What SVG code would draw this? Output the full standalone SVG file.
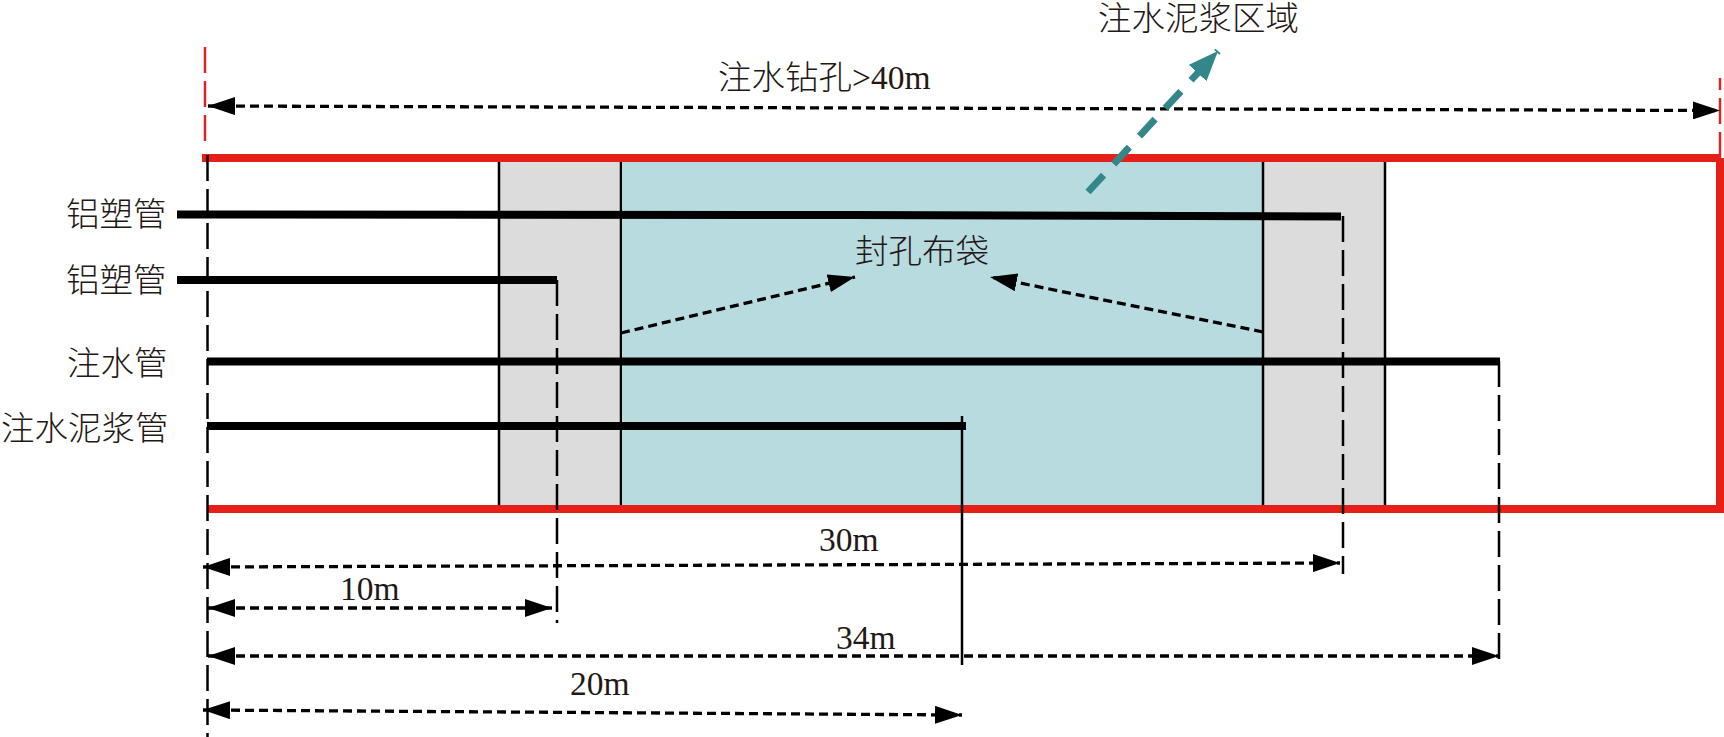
<svg xmlns="http://www.w3.org/2000/svg" width="1724" height="737" viewBox="0 0 1724 737">
<style>
text{font-family:"Liberation Serif","Noto Sans CJK SC",serif;font-size:33.5px;fill:#231815}
.cjk{font-weight:300}
.red{stroke:#e71f19;stroke-width:8;fill:none}
.reddash{stroke:#d9262a;stroke-width:2.5;stroke-dasharray:26 8;fill:none}
.pipe{stroke:#000;stroke-width:8;fill:none}
.wall{stroke:#000;stroke-width:2.5;fill:none}
.ext{stroke:#000;stroke-width:2.5;stroke-dasharray:26 8;fill:none}
.dim{stroke:#000;stroke-width:3.3;stroke-dasharray:9 5;fill:none;marker-start:url(#arrowStart);marker-end:url(#arrowEnd)}
.dim2{stroke:#000;stroke-width:3.3;stroke-dasharray:9 5;fill:none;marker-end:url(#arrowEnd)}
</style>
<defs>
<marker id="arrowEnd" markerUnits="userSpaceOnUse" markerWidth="27" markerHeight="18" refX="27" refY="9" orient="auto"><path d="M0 0L27 9L0 18Z" fill="#000"/></marker>
<marker id="arrowStart" markerUnits="userSpaceOnUse" markerWidth="27" markerHeight="18" refX="0" refY="9" orient="auto"><path d="M27 0L0 9L27 18Z" fill="#000"/></marker>
<marker id="tealHead" markerUnits="userSpaceOnUse" markerWidth="30" markerHeight="24" refX="30" refY="12" orient="auto"><path d="M0 0L30 12L0 24Z" fill="#338689"/></marker>
</defs>
<rect width="1724" height="737" fill="#fff"/>
<g id="grout-plug-left"><rect x="499" y="160" width="122" height="345" fill="#dcdcdc"/><path class="wall" d="M499 160V505M621 160V505"/></g>
<g id="bag-section"><rect x="622" y="160" width="640" height="345" fill="#b8dbe0"/></g>
<g id="grout-plug-right"><rect x="1263" y="160" width="122" height="345" fill="#dcdcdc"/><path class="wall" d="M1263 160V505M1385 160V505"/></g>
<g id="borehole"><path class="red" d="M202 158H1720"/><path class="red" d="M1720 158V513"/><path class="red" d="M207 509H1724"/></g>
<g id="connectors">
<path class="reddash" d="M205 47V147"/>
<path class="reddash" d="M1720 78V158" stroke-dashoffset="14"/>
<path class="ext" d="M207.500 155V737"/>
<path class="ext" d="M557 280V623"/>
<path class="ext" d="M1343 216V574"/>
<path class="ext" d="M1499 361V665"/>
<path d="M962 416V665" stroke="#000" stroke-width="2.500" fill="none"/>
<path class="dim" d="M208 106L1720 110.500"/>
<path class="dim" d="M203 567L1340 563"/>
<path class="dim" d="M208 608L552 608"/>
<path class="dim" d="M208 656L1499 656"/>
<path class="dim" d="M203 710L962 715"/>
<path class="dim2" d="M621 333L855 277"/>
<path class="dim2" d="M1263 332L990 277"/>
<path d="M1088 192L1218 51" stroke="#338689" stroke-width="7" stroke-dasharray="23 15" fill="none" marker-end="url(#tealHead)"/>
</g>
<g id="pipe-al-plastic-1"><path class="pipe" d="M177 214.500L852 215L1341 216.500"/><text class="cjk" x="66" y="226">铝塑管</text></g>
<g id="pipe-al-plastic-2"><path class="pipe" d="M177 280H557"/><text class="cjk" x="66" y="292">铝塑管</text></g>
<g id="pipe-water"><path class="pipe" d="M207 361.500H1500"/><text class="cjk" x="67" y="375">注水管</text></g>
<g id="pipe-grout"><path class="pipe" d="M207 426H966"/><text class="cjk" x="1" y="440">注水泥浆管</text></g>
<g id="labels">
<text class="cjk" x="1098" y="30">注水泥浆区域</text>
<text class="cjk" x="718" y="89">注水钻孔&gt;40m</text>
<text class="cjk" x="855" y="263">封孔布袋</text>
<text x="819" y="551">30m</text>
<text x="340" y="600">10m</text>
<text x="836" y="649">34m</text>
<text x="570" y="695">20m</text>
</g>
</svg>
